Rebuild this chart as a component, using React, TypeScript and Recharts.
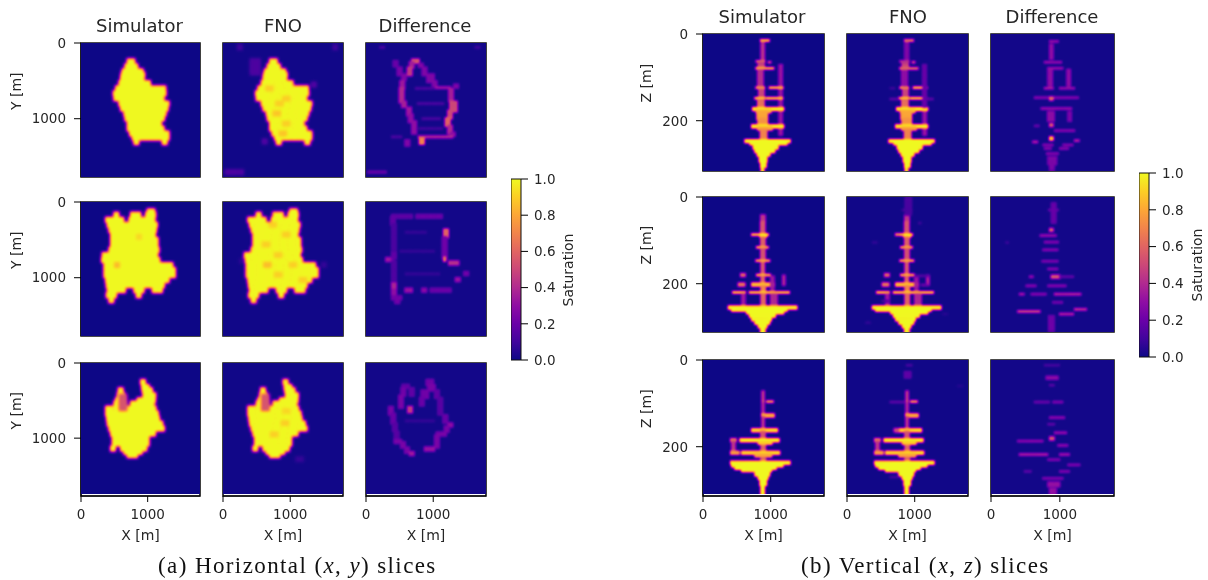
import { ScatterChart, Scatter, XAxis, YAxis, ReferenceArea, Label } from "recharts";

// one span: [row, from x, to x, saturation (default 1), last row (default: same row)]
type Span = [number, number, number, number?, number?];

const xTicks = [0, 1000];
const yTicksH = [0, 1000];
const yTicksV = [0, 200];
const colorbarTicks = [0, 0.2, 0.4, 0.6, 0.8, 1];
const plasmaStops = ["#0d0887", "#41049d", "#6a00a8", "#8f0da4", "#b12a90", "#cc4778", "#e16462", "#f2844b", "#fca636", "#fcce25", "#f0f921"];

const hSim1: Span[] = [
	[243, 710, 810], [310, 675, 835], [375, 635, 935], [420, 620, 950], [465, 610, 960], [530, 585, 1035], [600, 535, 1260],
	[665, 500, 1285], [730, 510, 1260], [800, 585, 1310], [865, 610, 1325], [930, 660, 1285], [995, 675, 1235],
	[1065, 710, 1210], [1130, 710, 1260], [1195, 745, 1310], [1250, 785, 1310], [1310, 810, 885], [1310, 1235, 1285],
];
const hFno1Extra: Span[] = [
	[240, 420, 540, 0.13, 400], [1705, 50, 300, 0.13, 1730], [58, 230, 280, 0.1], [58, 1650, 1690, 0.1], [1300, 600, 660, 0.14],
	[550, 1330, 1380, 0.14], [600, 650, 740, 0.9], [735, 900, 980, 0.9], [800, 800, 880, 0.9], [930, 760, 840, 0.88],
	[1065, 900, 980, 0.9], [1195, 850, 930, 0.88],
];
const hDiff1: Span[] = [
	[225, 695, 810, 0.55, 260], [260, 660, 720, 0.36, 330], [280, 795, 845, 0.26, 330], [330, 630, 680, 0.45, 420], [330, 850, 920, 0.26, 420],
	[420, 545, 620, 0.26, 500], [420, 920, 1000, 0.26, 510], [510, 520, 570, 0.34, 600], [510, 1000, 1060, 0.26, 590], [590, 1045, 1270, 0.34, 610],
	[600, 510, 560, 0.4, 780], [610, 1245, 1295, 0.36, 780], [780, 545, 620, 0.36, 860], [780, 1260, 1345, 0.5, 900], [860, 620, 670, 0.34, 950],
	[900, 1230, 1295, 0.5, 1000], [950, 645, 695, 0.3, 1040], [1000, 1195, 1245, 0.6, 1100], [1040, 695, 745, 0.3, 1200], [1100, 1230, 1295, 0.4, 1190],
	[1190, 1270, 1320, 0.3, 1240], [1240, 795, 1295, 0.42, 1265], [1265, 810, 860, 0.7, 1330], [1290, 595, 660, 0.26, 1350], [1240, 395, 520, 0.12],
	[243, 420, 480, 0.2, 330], [330, 480, 545, 0.24, 420], [555, 1320, 1370, 0.25, 590], [1705, 45, 320, 0.2, 1730], [58, 220, 270, 0.12],
	[58, 1640, 1690, 0.1], [600, 750, 1000, 0.12], [800, 780, 1150, 0.12], [1000, 850, 1100, 0.12], [1130, 800, 1150, 0.1],
];

const hSim2: Span[] = [
	[124, 1010, 1095], [168, 510, 585], [168, 760, 885], [168, 985, 1110], [235, 385, 660], [235, 735, 1110], [301, 410, 1135],
	[368, 435, 1135], [434, 460, 1135], [500, 460, 1160], [567, 460, 1160], [633, 435, 1185], [700, 335, 1160], [766, 325, 1175],
	[833, 360, 1385], [899, 360, 1420], [966, 360, 1435], [1032, 385, 1335], [1099, 395, 1260], [1165, 410, 685], [1165, 810, 935],
	[1165, 1085, 1235], [1232, 395, 535], [1232, 845, 910], [1298, 435, 510],
];
const hSim2Extra: Span[] = [[833, 520, 590, 0.85], [460, 850, 910, 0.92]];
const hFno2Extra: Span[] = [
	[300, 700, 780, 0.9], [430, 900, 980, 0.9], [560, 600, 680, 0.9], [830, 620, 700, 0.86], [830, 1000, 1080, 0.9],
	[700, 780, 860, 0.9], [960, 780, 860, 0.9], [1030, 1150, 1230, 0.9], [830, 1480, 1540, 0.08], [780, 260, 320, 0.06],
];
const hDiff2: Span[] = [
	[175, 395, 700, 0.17, 205], [175, 760, 1120, 0.2, 205], [205, 380, 445, 0.18, 300], [300, 395, 445, 0.13, 680], [370, 1170, 1220, 0.6, 470], [470, 1150, 1195, 0.22, 740],
	[740, 1170, 1205, 0.65, 790], [790, 1245, 1395, 0.42, 830], [745, 310, 395, 0.34, 790], [680, 395, 445, 0.18, 750], [790, 395, 445, 0.14, 1080],
	[930, 1470, 1545, 0.22, 970], [1010, 1345, 1420, 0.32, 1050], [1080, 395, 445, 0.38, 1165], [1165, 395, 445, 0.3, 1250], [1150, 595, 695, 0.32, 1180],
	[1150, 845, 895, 0.28, 1180], [1150, 970, 1270, 0.2, 1180], [1250, 395, 520, 0.22, 1290], [1300, 445, 520, 0.22, 1340], [400, 600, 900, 0.08],
	[650, 520, 1000, 0.08], [950, 600, 1100, 0.08],
];

const hSim3: Span[] = [
	[252, 910, 985], [319, 925, 1035], [363, 575, 625], [363, 935, 1085], [430, 560, 645], [430, 945, 1110], [496, 535, 660],
	[496, 860, 1110], [540, 510, 685], [540, 760, 1110], [607, 385, 485], [607, 510, 1135], [673, 385, 1160], [740, 400, 1195],
	[806, 410, 1245], [873, 435, 1260], [939, 460, 1135], [1006, 485, 1035], [1072, 485, 1010], [1139, 460, 535], [1139, 610, 985],
	[1183, 660, 910], [1227, 710, 860], [450, 590, 670, 0.55, 600],
];
const hFno3Extra: Span[] = [[800, 880, 960, 0.9], [950, 720, 800, 0.9], [640, 900, 980, 0.92], [1280, 1100, 1180, 0.08]];
const hDiff3: Span[] = [
	[230, 910, 1010, 0.22, 300], [300, 935, 1035, 0.24, 370], [295, 550, 660, 0.18, 340], [340, 535, 585, 0.22, 440], [340, 660, 710, 0.18, 440],
	[370, 835, 935, 0.22, 470], [370, 1035, 1110, 0.18, 470], [440, 500, 560, 0.24, 600], [470, 810, 885, 0.2, 560], [470, 1085, 1150, 0.16, 700],
	[590, 635, 685, 0.45, 650], [590, 350, 410, 0.24, 680], [680, 385, 450, 0.2, 810], [700, 1160, 1220, 0.2, 810], [810, 1235, 1310, 0.3, 850],
	[810, 410, 460, 0.16, 920], [850, 1180, 1250, 0.24, 930], [920, 435, 485, 0.16, 1040], [930, 1060, 1180, 0.24, 970], [970, 1035, 1085, 0.24, 1130],
	[1030, 435, 535, 0.24, 1060], [1060, 530, 600, 0.24, 1130], [1130, 885, 1035, 0.32, 1160], [1130, 590, 660, 0.24, 1200], [1190, 660, 735, 0.34, 1230],
	[770, 600, 1000, 0.08],
];

const vSim1: Span[] = [
	[15, 854, 982, 0.95, 18], [22, 860, 905, 0.42, 60], [63, 790, 915, 0.65, 66], [65, 967, 1002, 0.6], [70, 815, 905, 0.5, 78],
	[79, 786, 1041, 0.85, 82], [86, 810, 895, 0.42, 122], [72, 1125, 1175, 0.33, 235], [124, 786, 918, 0.8, 127], [124, 982, 1178, 0.9, 126],
	[129, 825, 900, 0.5, 147], [148, 771, 918, 0.95, 151], [148, 933, 1178, 0.95, 151], [154, 810, 900, 0.65, 170], [171, 737, 1188, 1, 175],
	[176, 790, 1010, 0.85, 180], [180, 800, 960, 0.8, 196], [196, 815, 950, 0.75, 210], [211, 722, 1188, 1, 215], [216, 810, 1030, 0.8, 222],
	[222, 850, 950, 0.7, 244], [245, 624, 1296, 1, 249], [250, 697, 1237, 1, 256], [256, 746, 1115, 1, 264], [264, 771, 1065, 1, 272],
	[272, 805, 992, 1, 282], [282, 835, 953, 1, 294], [294, 854, 933, 1, 306], [306, 864, 908, 1, 314],
];
const vFno1Extra: Span[] = [
	[15, 854, 982, 0.6, 18], [22, 865, 900, 0.25, 60], [63, 790, 915, 0.42, 66], [79, 786, 1041, 0.6, 82], [86, 815, 890, 0.3, 120],
	[72, 1125, 1175, 0.2, 168], [125, 640, 700, 0.1], [150, 640, 770, 0.18], [150, 1178, 1280, 0.18],
];
const vDiff1: Span[] = [
	[17, 854, 975, 0.35], [25, 854, 912, 0.3, 60], [65, 780, 1025, 0.35], [79, 830, 1048, 0.35], [83, 830, 892, 0.3, 121],
	[83, 1106, 1155, 0.3, 121], [125, 780, 900, 0.4], [125, 999, 1218, 0.35], [147, 635, 1266, 0.3], [147, 854, 902, 0.6, 151],
	[172, 732, 1169, 0.35], [180, 825, 920, 0.3, 202], [180, 1120, 1169, 0.25, 202], [208, 854, 912, 0.55, 212], [212, 635, 708, 0.2],
	[223, 926, 1218, 0.3], [239, 854, 912, 0.9, 245], [249, 611, 684, 0.45], [246, 1217, 1290, 0.45], [256, 760, 900, 0.3],
	[256, 1050, 1190, 0.3], [264, 780, 880, 0.3], [264, 1000, 1120, 0.3], [276, 810, 980, 0.3], [284, 830, 950, 0.25, 300], [300, 854, 925, 0.25, 312],
];

const vSim2: Span[] = [
	[43, 855, 915, 0.45, 56], [58, 852, 925, 0.55, 84], [87, 722, 967, 0.95, 90], [87, 845, 943, 1, 92], [94, 855, 915, 0.6, 114],
	[116, 795, 967, 0.85, 119], [122, 855, 915, 0.55, 145], [147, 786, 982, 0.85, 150], [153, 860, 915, 0.55, 178], [180, 795, 992, 0.9, 183],
	[178, 560, 624, 0.6, 183], [186, 860, 915, 0.6, 198], [200, 722, 1065, 0.9, 204], [200, 525, 624, 0.65, 204], [206, 860, 925, 0.7, 218],
	[184, 1002, 1051, 0.35, 218], [182, 1178, 1218, 0.4, 205], [220, 442, 624, 0.95, 223], [220, 687, 1277, 0.95, 223], [225, 860, 925, 0.6, 252],
	[225, 574, 624, 0.35, 250], [225, 1002, 1100, 0.4, 250], [253, 378, 1385, 1, 257], [258, 427, 1237, 1, 263], [264, 648, 1190, 1, 268],
	[268, 690, 1065, 1, 276], [276, 722, 1016, 1, 284], [284, 771, 992, 1, 292], [292, 820, 943, 1, 302], [302, 854, 918, 1, 312],
];
const vFno2Extra: Span[] = [
	[4, 860, 950, 0.13, 40], [30, 820, 960, 0.12], [60, 1060, 1090, 0.1], [105, 380, 440, 0.08], [182, 1002, 1200, 0.16],
	[87, 722, 780, 0.7, 90], [203, 1100, 1200, 0.22], [240, 520, 620, 0.12], [270, 1420, 1480, 0.06], [290, 280, 340, 0.08],
];
const vDiff2: Span[] = [
	[15, 880, 950, 0.2, 62], [30, 840, 975, 0.2], [74, 854, 912, 0.55, 78], [89, 718, 951, 0.35], [104, 780, 975, 0.3], [122, 757, 975, 0.3], [148, 745, 975, 0.28],
	[166, 830, 975, 0.3], [182, 878, 999, 0.55, 186], [184, 563, 611, 0.35], [184, 999, 1194, 0.2], [205, 514, 660, 0.3], [205, 830, 1097, 0.3],
	[224, 417, 490, 0.4], [224, 587, 806, 0.3], [224, 926, 1314, 0.45], [243, 900, 1048, 0.25], [264, 393, 708, 0.55], [270, 999, 1194, 0.45],
	[259, 1217, 1387, 0.5], [275, 840, 926, 0.22, 309], [105, 220, 260, 0.1],
];

const vSim3: Span[] = [
	[73, 872, 915, 0.45, 95], [96, 872, 915, 0.5, 98], [96, 943, 1041, 0.8, 98], [100, 872, 915, 0.4, 125], [126, 869, 1051, 0.85, 130],
	[132, 872, 915, 0.45, 158], [160, 722, 1100, 0.95, 164], [166, 855, 925, 0.55, 182], [183, 412, 501, 0.7, 187], [183, 550, 1129, 1, 187],
	[189, 427, 476, 0.45, 212], [189, 820, 1016, 0.9, 196], [199, 860, 925, 0.6, 211], [212, 412, 540, 0.8, 216], [212, 574, 1129, 0.95, 216],
	[218, 771, 1016, 0.8, 225], [227, 860, 925, 0.6, 234], [235, 412, 1286, 1, 241], [241, 427, 1188, 1, 247], [247, 476, 1090, 1, 252],
	[252, 574, 1016, 1, 258], [258, 771, 992, 1, 266], [266, 820, 967, 1, 276], [276, 845, 943, 1, 288], [288, 859, 918, 1, 310],
];
const vFno3Extra: Span[] = [
	[12, 880, 960, 0.13], [28, 850, 940, 0.18, 40], [97, 640, 860, 0.18], [160, 700, 760, 0.5, 164], [270, 640, 760, 0.12], [60, 1640, 1700, 0.06],
];
const vDiff3: Span[] = [
	[12, 780, 1000, 0.13], [39, 805, 976, 0.3, 43], [58, 854, 927, 0.16], [97, 634, 854, 0.22], [97, 903, 1049, 0.28], [133, 854, 1073, 0.32],
	[148, 830, 927, 0.18], [168, 927, 1098, 0.36], [179, 854, 917, 0.55, 183], [187, 390, 756, 0.32], [197, 976, 1122, 0.32], [218, 415, 830, 0.42],
	[218, 1000, 1147, 0.38], [230, 830, 1000, 0.28], [242, 1122, 1293, 0.28], [257, 488, 585, 0.18], [257, 1000, 1147, 0.28], [273, 756, 1049, 0.28],
	[283, 830, 1000, 0.32, 292], [298, 854, 952, 0.32, 308],
];

const gray = (v: number) => {
	const c = Math.round(v * 255);
	return `rgb(${c},${c},${c})`;
};

function toCells(spans: Span[], xStep: number, yStep: number) {
	const cells: { x: number; y: number; v: number }[] = [];
	for (const [y, x0, x1, v = 1, yEnd = y] of spans) {
		for (let row = y; row <= yEnd; row += yStep) {
			for (let x = x0; x <= x1; x += xStep) cells.push({ x, y: row, v });
		}
	}
	return cells;
}

type Panel = {
	id: string;
	left: number;
	top: number;
	w: number;
	h: number;
	spans: Span[];
	kind: "h" | "v";
	col: number;
	floor: number;
	blur: number;
	yLabel?: string;
	xLabel?: boolean;
};

const colsH = [
	{ left: 81, w: 119 },
	{ left: 223, w: 120 },
	{ left: 366, w: 120 },
];
const rowsH = [
	{ top: 43, h: 134 },
	{ top: 202, h: 134 },
	{ top: 363, h: 133 },
];
const colsV = [
	{ left: 703, w: 121 },
	{ left: 847, w: 121 },
	{ left: 991, w: 123 },
];
const rowsV = [
	{ top: 34, h: 137 },
	{ top: 197, h: 135 },
	{ top: 360, h: 136 },
];

const spansH = [
	[hSim1, [...hSim1, ...hFno1Extra], hDiff1],
	[[...hSim2, ...hSim2Extra], [...hSim2, ...hFno2Extra], hDiff2],
	[hSim3, [...hSim3, ...hFno3Extra], hDiff3],
];
const spansV = [
	[vSim1, [...vSim1, ...vFno1Extra], vDiff1],
	[vSim2, [...vSim2, ...vFno2Extra], vDiff2],
	[vSim3, [...vSim3, ...vFno3Extra], vDiff3],
];

const floors = [0, 0.006, 0.012];
const blursH = [1.7, 1.8, 0.9];
const blursV = [0.9, 1, 0.9];

const panels: Panel[] = [];
rowsH.forEach((r, i) =>
	colsH.forEach((c, j) =>
		panels.push({
			id: `h${i}${j}`, ...c, ...r, spans: spansH[i][j], kind: "h", col: j, floor: floors[j], blur: blursH[j],
			yLabel: j === 0 ? "Y [m]" : undefined, xLabel: i === 2,
		}),
	),
);
rowsV.forEach((r, i) =>
	colsV.forEach((c, j) =>
		panels.push({
			id: `v${i}${j}`, ...c, ...r, spans: spansV[i][j], kind: "v", col: j, floor: floors[j], blur: blursV[j],
			yLabel: j === 0 ? "Z [m]" : undefined, xLabel: i === 2,
		}),
	),
);

const PAD_L = 80;
const PAD_T = 10;
const PAD_R = 10;
const PAD_B = 52;
const tickStyle = { fontFamily: "DejaVu Sans", fontSize: 13.5, fill: "#262626" };
const labelStyle = { fontFamily: "DejaVu Sans", fontSize: 14, fill: "#262626" };

function table(channel: number) {
	return plasmaStops.map((s) => (parseInt(s.slice(1 + channel * 2, 3 + channel * 2), 16) / 255).toFixed(3)).join(" ");
}

function HeatPanel({ p }: { p: Panel }) {
	const isH = p.kind === "h";
	const fine = isH && p.col === 2;
	const xMax = isH ? 1785 : 1787;
	const yMax = isH ? 1770 : (p.h / 137) * 316;
	const cells = toCells(p.spans, isH ? 40 : 15, fine ? 30 : isH ? 50 : 4);
	const cw = isH ? 3.3 : 1.6;
	const ch = fine ? 3 : isH ? 6 : 2.4;
	return (
		<div style={{ position: "absolute", left: p.left - PAD_L, top: p.top - PAD_T }}>
			<ScatterChart
				width={p.w + PAD_L + PAD_R}
				height={p.h + PAD_T + PAD_B}
				margin={{ top: PAD_T, right: PAD_R, bottom: p.xLabel ? 0 : PAD_B, left: p.yLabel ? 0 : PAD_L }}
			>
				<XAxis
					type="number"
					dataKey="x"
					domain={[0, xMax]}
					ticks={xTicks}
					hide={!p.xLabel}
					height={PAD_B}
					tick={tickStyle}
					tickSize={6}
					tickMargin={7}
					stroke="#000"
					allowDataOverflow
				>
					<Label value="X [m]" position="insideBottom" offset={8} style={labelStyle} />
				</XAxis>
				<YAxis
					type="number"
					dataKey="y"
					reversed
					domain={[0, yMax]}
					ticks={isH ? yTicksH : yTicksV}
					hide={!p.yLabel}
					width={PAD_L}
					tick={tickStyle}
					tickSize={7}
					tickMargin={8}
					stroke="#000"
					allowDataOverflow
				>
					<Label value={p.yLabel} angle={-90} position="insideLeft" offset={isH ? 15 : 23} style={labelStyle} />
				</YAxis>
				<Scatter
					data={cells}
					className={`heat-${p.id}`}
					isAnimationActive={false}
					shape={(s: any) => (
						<rect x={s.cx - cw / 2} y={s.cy - ch / 2} width={cw} height={ch} fill={gray(s.payload.v)} />
					)}
				/>
				<ReferenceArea x1={0} x2={xMax} y1={0} y2={yMax} fill="none" stroke="#111" strokeWidth={1.6} fillOpacity={0} />
			</ScatterChart>
		</div>
	);
}

function Colorbar({ left, top, h, labelX }: { left: number; top: number; h: number; labelX: number }) {
	return (
		<>
			<div style={{ position: "absolute", left, top: top - PAD_T }}>
				<ScatterChart width={60} height={h + 2 * PAD_T} margin={{ top: PAD_T, right: 0, bottom: PAD_T, left: 0 }}>
					<XAxis type="number" dataKey="x" domain={[0, 1]} hide />
					<YAxis
						type="number"
						dataKey="y"
						orientation="right"
						domain={[0, 1]}
						ticks={colorbarTicks}
						tickFormatter={(t: number) => t.toFixed(1)}
						width={50}
						tick={tickStyle}
						tickSize={7}
						tickMargin={6}
						stroke="#000"
						axisLine={false}
					/>
					<Scatter data={colorbarTicks.map((y) => ({ x: 0, y }))} isAnimationActive={false} shape={() => <g />} />
					<ReferenceArea x1={0} x2={1} y1={0} y2={1} fill="url(#plasmaBar)" fillOpacity={1} stroke="#111" />
				</ScatterChart>
			</div>
			<div style={{ ...textBase, fontSize: 14, left: labelX, top: top + h / 2, transform: "translate(-50%,-50%) rotate(-90deg)" }}>
				Saturation
			</div>
		</>
	);
}

const textBase: React.CSSProperties = {
	position: "absolute",
	fontFamily: "DejaVu Sans",
	color: "#262626",
	whiteSpace: "nowrap",
	lineHeight: 1,
};

const titles = [
	{ text: "Simulator", x: 139.5, y: 26 },
	{ text: "FNO", x: 283, y: 26 },
	{ text: "Difference", x: 425, y: 26 },
	{ text: "Simulator", x: 762, y: 17 },
	{ text: "FNO", x: 908, y: 17 },
	{ text: "Difference", x: 1052, y: 17 },
];

function Caption({ x, tag, name, axis }: { x: number; tag: string; name: string; axis: string }) {
	return (
		<div style={{ position: "absolute", left: x, top: 554, fontFamily: "Liberation Serif", fontSize: 23, letterSpacing: 1.4, color: "#111", whiteSpace: "nowrap", lineHeight: 1 }}>
			({tag}) {name} (<i>x</i>, <i>{axis}</i>) slices
		</div>
	);
}

export default function App() {
	return (
		<div style={{ position: "absolute", left: 0, top: 0, width: 1208, height: 580, background: "#fff", overflow: "hidden", filter: "blur(0.35px)" }}>
			<svg width={0} height={0} style={{ position: "absolute" }}>
				<defs>
					<linearGradient id="plasmaBar" x1="0" y1="1" x2="0" y2="0">
						{plasmaStops.map((c, i) => (
							<stop key={c} offset={i / (plasmaStops.length - 1)} stopColor={c} />
						))}
					</linearGradient>
					{panels.map((p) => (
						<filter
							key={p.id}
							id={`f-${p.id}`}
							filterUnits="userSpaceOnUse"
							x={PAD_L}
							y={PAD_T}
							width={p.w}
							height={p.xLabel ? p.h - 2 : p.h}
							colorInterpolationFilters="sRGB"
						>
							<feFlood floodColor={gray(p.floor)} result="bg" />
							<feComposite in="SourceGraphic" in2="bg" operator="over" result="m" />
							<feGaussianBlur in="m" stdDeviation={p.blur} result="b" />
							<feComponentTransfer in="b">
								<feFuncR type="table" tableValues={table(0)} />
								<feFuncG type="table" tableValues={table(1)} />
								<feFuncB type="table" tableValues={table(2)} />
								<feFuncA type="discrete" tableValues="1" />
							</feComponentTransfer>
						</filter>
					))}
				</defs>
			</svg>
			<style>{panels.map((p) => `.heat-${p.id}{filter:url(#f-${p.id})}`).join("\n")}</style>
			{panels.map((p) => (
				<HeatPanel key={p.id} p={p} />
			))}
			{titles.map((t, i) => (
				<div key={i} style={{ ...textBase, fontSize: 18, left: t.x, top: t.y, transform: "translate(-50%,-50%)" }}>
					{t.text}
				</div>
			))}
			<Colorbar left={511} top={179} h={181} labelX={568} />
			<Colorbar left={1139} top={173} h={184} labelX={1197} />
			<Caption x={158} tag="a" name="Horizontal" axis="y" />
			<Caption x={801} tag="b" name="Vertical" axis="z" />
		</div>
	);
}
